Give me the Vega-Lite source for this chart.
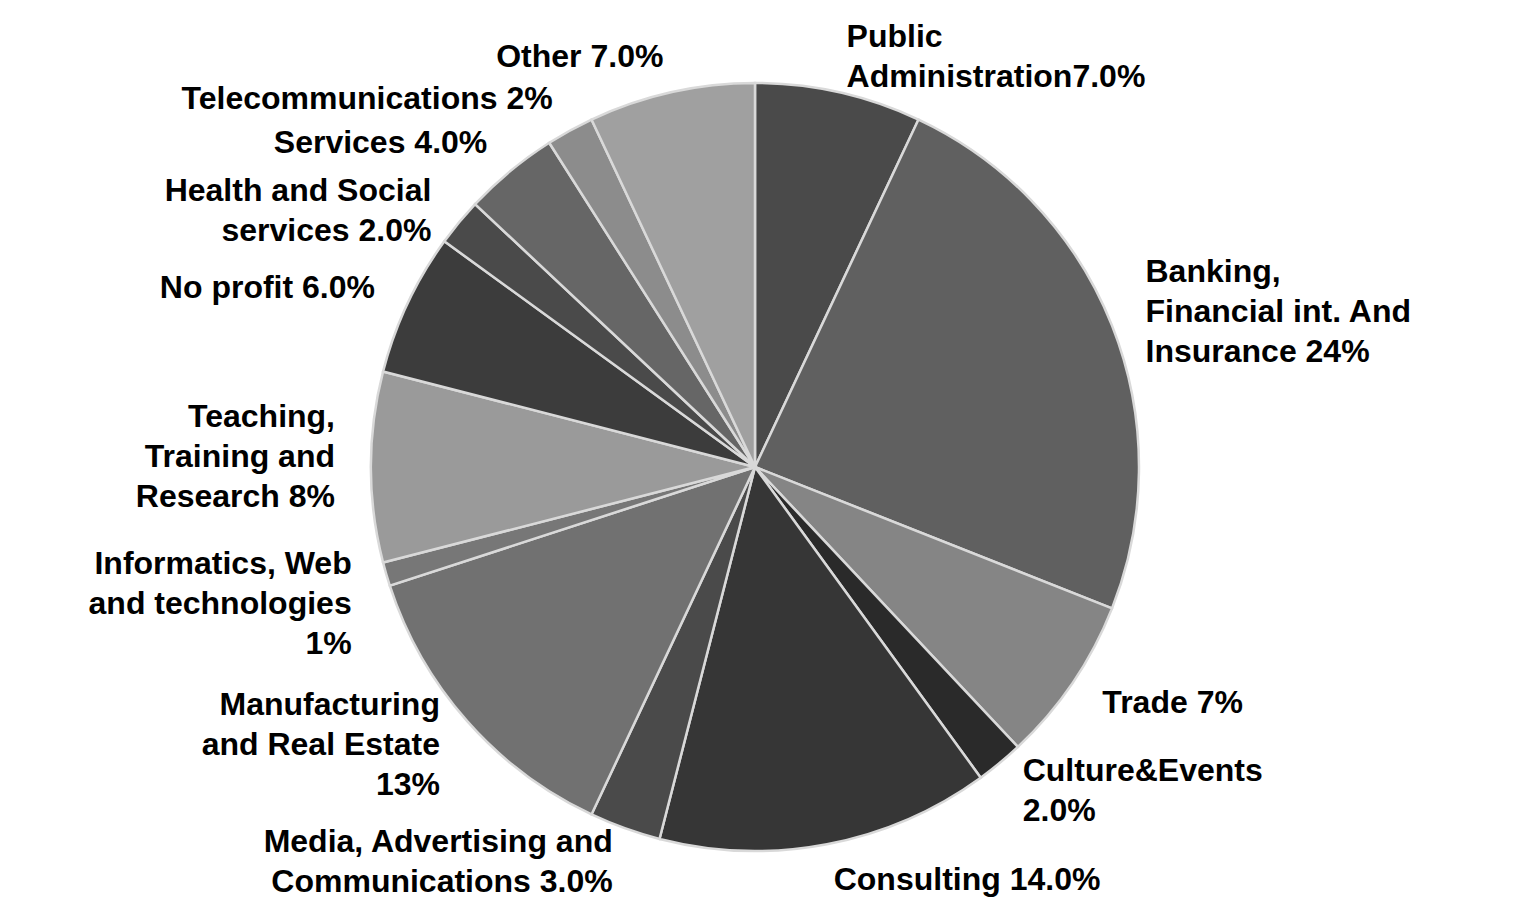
{
  "$schema": "https://vega.github.io/schema/vega-lite/v6.json",
  "width": 1510,
  "height": 880,
  "autosize": {"type": "none"},
  "padding": {"left": 0, "right": 15, "top": 27, "bottom": 0},
  "background": "white",
  "view": {"stroke": null},
  "config": {
    "text": {"font": "Liberation Sans", "fontWeight": "bold", "fontSize": 32, "lineBreak": "\n", "lineHeight": 40, "baseline": "middle"}
  },
  "data": {
    "values": [
      {"category": "Public Administration", "value": 7, "label": "Public\nAdministration7.0%"},
      {"category": "Banking, Financial int. And Insurance", "value": 24, "label": "Banking,\nFinancial int. And\nInsurance 24%"},
      {"category": "Trade", "value": 7, "label": "Trade 7%"},
      {"category": "Culture&Events", "value": 2, "label": "Culture&Events\n2.0%"},
      {"category": "Consulting", "value": 14, "label": "Consulting 14.0%"},
      {"category": "Media, Advertising and Communications", "value": 3, "label": "Media, Advertising and\nCommunications 3.0%"},
      {"category": "Manufacturing and Real Estate", "value": 13, "label": "Manufacturing\nand Real Estate\n13%"},
      {"category": "Informatics, Web and technologies", "value": 1, "label": "Informatics, Web\nand technologies\n1%"},
      {"category": "Teaching, Training and Research", "value": 8, "label": "Teaching,\nTraining and\nResearch  8%"},
      {"category": "No profit", "value": 6, "label": "No profit 6.0%"},
      {"category": "Health and Social services", "value": 2, "label": "Health and Social\nservices 2.0%"},
      {"category": "Services", "value": 4, "label": "Services 4.0%"},
      {"category": "Telecommunications", "value": 2, "label": "Telecommunications 2%"},
      {"category": "Other", "value": 7, "label": "Other 7.0%"}
    ]
  },
  "transform": [{"window": [{"op": "row_number", "as": "i"}]}],
  "encoding": {
    "theta": {"field": "value", "type": "quantitative", "stack": true},
    "order": {"field": "i", "type": "quantitative"},
    "detail": {"field": "category", "type": "nominal"},
    "color": {
      "field": "category",
      "type": "nominal",
      "legend": null,
      "scale": {
        "domain": ["Public Administration", "Banking, Financial int. And Insurance", "Trade", "Culture&Events", "Consulting", "Media, Advertising and Communications", "Manufacturing and Real Estate", "Informatics, Web and technologies", "Teaching, Training and Research", "No profit", "Health and Social services", "Services", "Telecommunications", "Other"],
        "range": ["#4a4a4a", "#606060", "#858585", "#2a2a2a", "#363636", "#4a4a4a", "#717171", "#777777", "#9a9a9a", "#3c3c3c", "#4a4a4a", "#666666", "#8c8c8c", "#a0a0a0"]
      }
    }
  },
  "layer": [
    {
      "mark": {"type": "arc", "outerRadius": 384, "stroke": "#d9d9d9", "strokeWidth": 2.5}
    },
    {
      "mark": {"type": "text", "radius": 420, "align": "left", "dy": 0},
      "encoding": {
        "color": {"value": "black"},
        "text": {"condition": {"test": "datum.i == 3 || datum.i == 5", "field": "label"}, "value": ""}
      }
    },
    {
      "mark": {"type": "text", "radius": 420, "align": "left", "dy": -20},
      "encoding": {
        "color": {"value": "black"},
        "text": {"condition": {"test": "datum.i == 1 || datum.i == 4", "field": "label"}, "value": ""}
      }
    },
    {
      "mark": {"type": "text", "radius": 420, "align": "left", "dy": -40},
      "encoding": {
        "color": {"value": "black"},
        "text": {"condition": {"test": "datum.i == 2", "field": "label"}, "value": ""}
      }
    },
    {
      "mark": {"type": "text", "radius": 420, "align": "right", "dy": 0},
      "encoding": {
        "color": {"value": "black"},
        "text": {"condition": {"test": "datum.i == 10 || datum.i == 12 || datum.i == 13 || datum.i == 14", "field": "label"}, "value": ""}
      }
    },
    {
      "mark": {"type": "text", "radius": 420, "align": "right", "dy": -20},
      "encoding": {
        "color": {"value": "black"},
        "text": {"condition": {"test": "datum.i == 6", "field": "label"}, "value": ""}
      }
    },
    {
      "mark": {"type": "text", "radius": 420, "align": "right", "dy": -8},
      "encoding": {
        "color": {"value": "black"},
        "text": {"condition": {"test": "datum.i == 11", "field": "label"}, "value": ""}
      }
    },
    {
      "mark": {"type": "text", "radius": 420, "align": "right", "dy": -40},
      "encoding": {
        "color": {"value": "black"},
        "text": {"condition": {"test": "datum.i == 7", "field": "label"}, "value": ""}
      }
    },
    {
      "mark": {"type": "text", "radius": 420, "align": "right", "dy": -20},
      "encoding": {
        "color": {"value": "black"},
        "text": {"condition": {"test": "datum.i == 8", "field": "label"}, "value": ""}
      }
    },
    {
      "mark": {"type": "text", "radius": 420, "align": "right", "dy": -50},
      "encoding": {
        "color": {"value": "black"},
        "text": {"condition": {"test": "datum.i == 9", "field": "label"}, "value": ""}
      }
    }
  ]
}
